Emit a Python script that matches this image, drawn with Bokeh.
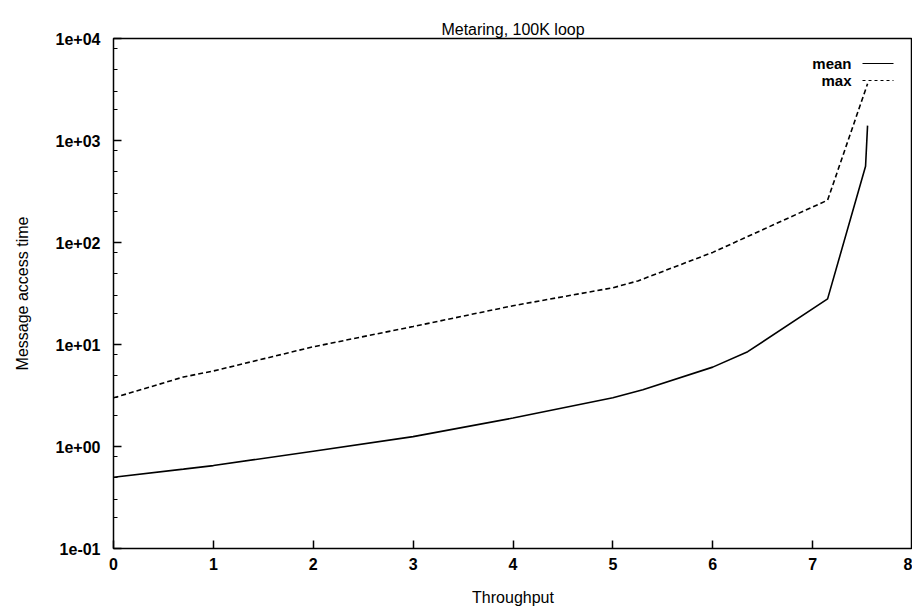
from bokeh.plotting import figure
from bokeh.models import Range1d, FixedTicker, CustomJSTickFormatter, Label, Arrow, Title
from bokeh.embed import file_html
from bokeh.resources import INLINE

# data
mean_x = [0.0, 0.7, 1.0, 2.0, 3.0, 4.0, 5.0, 5.3, 6.0, 6.35, 7.15, 7.53, 7.55]
mean_y = [0.5, 0.6, 0.65, 0.9, 1.25, 1.9, 3.0, 3.6, 6.0, 8.5, 28.0, 560.0, 1400.0]
max_x = [0.0, 0.7, 1.0, 2.0, 3.0, 4.0, 5.0, 5.25, 6.0, 7.15, 7.55]
max_y = [3.0, 4.8, 5.5, 9.5, 15.0, 24.0, 36.0, 42.0, 80.0, 260.0, 3600.0]
x_ticks = [0, 1, 2, 3, 4, 5, 6, 7, 8]
y_ticks = [0.1, 1, 10, 100, 1000, 10000]
series_labels = ["mean", "max"]

FONT = "Liberation Sans"

p = figure(width=912, height=608, output_backend="svg", toolbar_location=None,
           y_axis_type="log", x_range=Range1d(0, 8), y_range=Range1d(0.1, 10000),
           min_border_left=113, min_border_right=0, min_border_top=38, min_border_bottom=60)
p.title = Title(text="Metaring, 100K loop", align="center", text_font=FONT,
                text_font_size="16px", text_font_style="normal", text_color="black",
                offset=0, standoff=2)
p.grid.visible = False
p.outline_line_color = "black"
p.outline_line_width = 1.5
p.background_fill_color = "white"
p.border_fill_color = "white"

p.line(mean_x, mean_y, line_color="black", line_width=1.6)
p.line(max_x, max_y, line_color="black", line_width=1.6, line_dash="5 3")

xa = p.xaxis[0]
xa.ticker = FixedTicker(ticks=x_ticks)
xa.axis_label = "Throughput"
ya = p.yaxis[0]
ya.ticker = FixedTicker(ticks=y_ticks, minor_ticks=[v * k for v in y_ticks[:-1] for k in (2, 3, 5, 8)])
ya.formatter = CustomJSTickFormatter(code="""
const e = Math.round(Math.log10(tick));
const s = Math.abs(e).toString().padStart(2, '0');
return '1e' + (e < 0 ? '-' : '+') + s;
""")
ya.axis_label = "Message access time"

for ax in (xa, ya):
    ax.axis_line_color = None
    ax.major_tick_in = 8
    ax.major_tick_out = 0
    ax.minor_tick_in = 4
    ax.minor_tick_out = 0
    ax.major_tick_line_color = "black"
    ax.major_tick_line_width = 1.5
    ax.minor_tick_line_color = "black"
    ax.minor_tick_line_width = 1.2
    ax.major_label_text_font = FONT
    ax.major_label_text_font_size = "16px"
    ax.major_label_text_font_style = "bold"
    ax.major_label_text_color = "black"
    ax.axis_label_text_font = FONT
    ax.axis_label_text_font_size = "16px"
    ax.axis_label_text_font_style = "normal"
    ax.axis_label_text_color = "black"
xa.minor_tick_line_color = None
xa.major_label_standoff = 9
xa.axis_label_standoff = 16
ya.major_label_standoff = 13
ya.axis_label_standoff = 22

# legend (gnuplot style: label then sample)
for i, (lab, dash) in enumerate(zip(series_labels, ["solid", "3 3"])):
    yy = 485 - 17 * i
    p.add_layout(Label(x=738, y=yy, x_units="screen", y_units="screen", text=lab,
                       text_align="right", text_baseline="middle", text_font=FONT,
                       text_font_size="15px", text_font_style="bold", text_color="black"))
    p.add_layout(Arrow(x_start=749, y_start=yy, x_end=780, y_end=yy,
                       start_units="screen", end_units="screen", end=None,
                       line_color="black", line_width=1.2, line_dash=dash))

open("out.html", "w").write(file_html(p, INLINE))
